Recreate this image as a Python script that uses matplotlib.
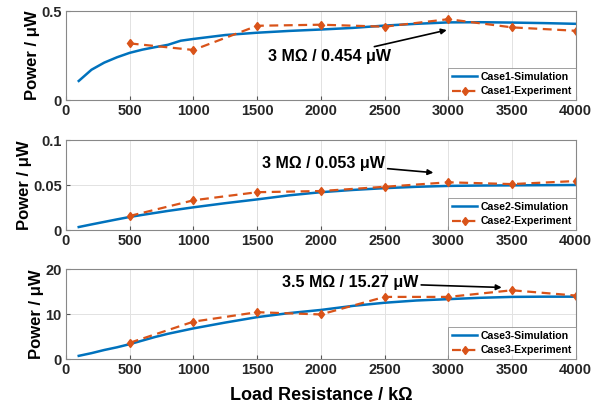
import matplotlib
matplotlib.use('Agg')
from matplotlib import pyplot as plt

plt.rcParams['font.family'] = ['Liberation Sans', 'DejaVu Sans']
plt.rcParams['font.weight'] = 'bold'

# simulation curves (kOhm, uW)
sim_x = [100, 200, 300, 400, 500, 600, 700, 800, 900, 1000, 1250, 1500, 1750, 2000,
         2250, 2500, 2750, 3000, 3250, 3500, 3750, 4000]
sim1 = [0.107, 0.170, 0.210, 0.240, 0.265, 0.283, 0.297, 0.310, 0.333, 0.343, 0.365,
        0.378, 0.388, 0.396, 0.405, 0.418, 0.428, 0.436, 0.437, 0.435, 0.432, 0.428]
sim2 = [0.0033, 0.0062, 0.0090, 0.0118, 0.0145, 0.0168, 0.0190, 0.0212, 0.0232, 0.0252,
        0.0298, 0.0340, 0.0385, 0.0420, 0.0445, 0.0465, 0.0480, 0.0490, 0.0494, 0.0496,
        0.0498, 0.0500]
sim3 = [0.7, 1.3, 2.0, 2.6, 3.3, 4.1, 4.9, 5.6, 6.2, 6.8, 8.1, 9.3, 10.2, 10.9,
        11.8, 12.5, 13.0, 13.3, 13.6, 13.8, 13.85, 13.85]

# experiment points
exp_x = [500, 1000, 1500, 2000, 2500, 3000, 3500, 4000]
exp1 = [0.318, 0.281, 0.417, 0.423, 0.412, 0.454, 0.408, 0.389]
exp2 = [0.0156, 0.033, 0.042, 0.0433, 0.048, 0.053, 0.051, 0.0544]
exp3 = [3.6, 8.3, 10.4, 9.9, 13.8, 13.8, 15.27, 14.1]

y_ticks = [[0, 0.5], [0, 0.05, 0.1], [0, 10, 20]]
y_labels = [['0', '0.5'], ['0', '0.05', '0.1'], ['0', '10', '20']]
notes = ['3 MΩ / 0.454 μW', '3 MΩ / 0.053 μW', '3.5 MΩ / 15.27 μW']
note_text = [(268, 0.242), (262, 0.0744), (282, 16.96)]
note_tip = [(2988, 0.393), (2883, 0.0637), (3419, 15.9)]

blue = '#0072BD'
orange = '#D95319'

fig = plt.figure(figsize=(5.95, 4.11), dpi=100)
tops = [11, 140, 269]
bottoms = [100, 230, 359]
W, H = 595, 411
sims = [sim1, sim2, sim3]
exps = [exp1, exp2, exp3]

for i in range(3):
    ax = fig.add_axes([66 / W, 1 - bottoms[i] / H, (575.7 - 66) / W, (bottoms[i] - tops[i]) / H])
    ax.plot(sim_x, sims[i], color=blue, lw=1.8, label='Case%d-Simulation' % (i + 1))
    ax.plot(exp_x, exps[i], color=orange, lw=1.6, ls=(0, (4, 2.5)), marker='d', ms=4.5,
            mfc=orange, mec=orange, label='Case%d-Experiment' % (i + 1))
    ax.set_xlim(0, 4000)
    ax.set_ylim(y_ticks[i][0], y_ticks[i][-1])
    ax.set_xticks(range(0, 4001, 500))
    ax.set_yticks(y_ticks[i])
    ax.set_yticklabels(y_labels[i])
    ax.tick_params(direction='in', labelsize=10.5, length=3, color='#555555', pad=3)
    for lab in ax.get_xticklabels() + ax.get_yticklabels():
        lab.set_fontweight('bold')
        lab.set_color('#262626')
    ax.grid(True, color='#e2e2e2', lw=0.7)
    ax.set_axisbelow(True)
    for s in ax.spines.values():
        s.set_color('#888888')
        s.set_linewidth(0.8)
    ax.set_ylabel('Power / μW', fontsize=12, fontweight='bold', labelpad=1)
    tx = (note_text[i][0] - 66) / (575.7 - 66) * 4000
    ax.annotate(notes[i], xy=note_tip[i], xytext=(tx, note_text[i][1]),
                fontsize=11.5, fontweight='bold', va='center', ha='left',
                arrowprops=dict(arrowstyle='-|>', color='black', lw=1.2,
                                mutation_scale=8, shrinkA=0, shrinkB=0))
    leg = ax.legend(loc='lower right', prop={'weight': 'bold', 'size': 7.6},
                    frameon=True, fancybox=False, edgecolor='#888888',
                    borderpad=0.35, labelspacing=0.45, handlelength=2.4,
                    handletextpad=0.3, borderaxespad=0.0)
    leg.get_frame().set_linewidth(0.7)
    if i == 2:
        ax.set_xlabel('Load Resistance / kΩ', fontsize=13, fontweight='bold', labelpad=7)

fig.savefig('out.png', dpi=100)
